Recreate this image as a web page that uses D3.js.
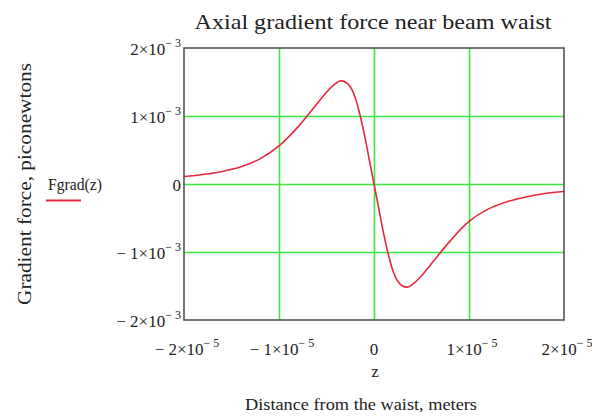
<!DOCTYPE html>
<html>
<head>
<meta charset="utf-8">
<script src="https://cdn.jsdelivr.net/npm/d3@7"></script>
<style>
  body { margin: 0; background: #fff; }
  text { font-family: "Liberation Serif", "Times New Roman", serif; fill: #222; }
</style>
</head>
<body>
<svg id="chart" width="592" height="419"></svg>
<script>
// distance from waist (units of 1e-5 m) and force (units of 1e-3 pN)
const zVals = [-2.0, -1.8, -1.6, -1.4, -1.2, -1.0, -0.8, -0.6, -0.5, -0.42, -0.36, -0.3, -0.25, -0.2, -0.15, -0.1, -0.05, 0,
               0.05, 0.1, 0.15, 0.2, 0.25, 0.3, 0.36, 0.42, 0.5, 0.6, 0.8, 1.0, 1.2, 1.4, 1.6, 1.8, 2.0]
const fVals = [0.11, 0.14, 0.185, 0.255, 0.37, 0.56, 0.84, 1.18, 1.35, 1.46, 1.515, 1.50, 1.43, 1.28, 1.03, 0.72, 0.36, 0,
               -0.36, -0.72, -1.03, -1.28, -1.43, -1.50, -1.515, -1.46, -1.35, -1.18, -0.84, -0.55, -0.37, -0.26, -0.19, -0.14, -0.11]
const xTicks = [-2, -1, 0, 1, 2]
const yTicks = [-2, -1, 0, 1, 2]
const tickLabels = ['\u2212 2\u00d710', '\u2212 1\u00d710', '0', '1\u00d710', '2\u00d710']

const margin = { top: 48, right: 28, bottom: 99, left: 184 }
const width = 592, height = 419
const red = '#e6283c', green = '#3de63d'
const svg = d3.select('#chart')

const x = d3.scaleLinear().domain([-2, 2]).range([margin.left, width - margin.right])
const y = d3.scaleLinear().domain([-2, 2]).range([height - margin.bottom, margin.top])

// grid lines
svg.append('g')
  .attr('transform', `translate(0,${height - margin.bottom})`)
  .call(d3.axisBottom(x).tickValues([-1, 0, 1]).tickSize(-(height - margin.top - margin.bottom)).tickFormat(''))
  .call(g => g.select('.domain').remove())
  .selectAll('line').attr('stroke', green).attr('stroke-width', 1.6)

svg.append('g')
  .attr('transform', `translate(${margin.left},0)`)
  .call(d3.axisLeft(y).tickValues([-1, 0, 1]).tickSize(-(width - margin.left - margin.right)).tickFormat(''))
  .call(g => g.select('.domain').remove())
  .selectAll('line').attr('stroke', green).attr('stroke-width', 1.6)

// curve
const line = d3.line()
  .x((d, i) => x(zVals[i]))
  .y(d => y(d))
  .curve(d3.curveCatmullRom.alpha(0.5))

svg.append('path')
  .datum(fVals)
  .attr('fill', 'none')
  .attr('stroke', red)
  .attr('stroke-width', 1.6)
  .attr('d', line)

// frame
svg.append('rect')
  .attr('x', margin.left).attr('y', margin.top)
  .attr('width', width - margin.left - margin.right)
  .attr('height', height - margin.top - margin.bottom)
  .attr('fill', 'none').attr('stroke', '#555').attr('stroke-width', 1.6)

// tick labels with superscript exponents
svg.append('g').selectAll('text').data(xTicks).join('text')
  .attr('x', d => x(d) + (d === 0 ? 0 : 3)).attr('y', 355)
  .attr('text-anchor', 'middle')
  .attr('font-size', 17)
  .each(function(d, i) {
    const t = d3.select(this)
    t.append('tspan').text(tickLabels[i])
    if (d !== 0) t.append('tspan').attr('dy', -8).attr('font-size', 12).text('\u2212 5')
  })

svg.append('g').selectAll('text').data(yTicks).join('text')
  .attr('x', margin.left - 3).attr('y', d => y(d) + 7)
  .attr('text-anchor', 'end')
  .attr('font-size', 17)
  .each(function(d, i) {
    const t = d3.select(this)
    t.append('tspan').text(tickLabels[i])
    if (d !== 0) t.append('tspan').attr('dy', -8).attr('font-size', 12).text('\u2212 3')
  })

// titles
svg.append('text')
  .attr('x', 373).attr('y', 29)
  .attr('text-anchor', 'middle')
  .attr('font-size', 21)
  .attr('textLength', 357).attr('lengthAdjust', 'spacingAndGlyphs')
  .text('Axial gradient force near beam waist')

svg.append('text')
  .attr('x', 375).attr('y', 377)
  .attr('text-anchor', 'middle')
  .attr('font-size', 17)
  .text('z')

svg.append('text')
  .attr('x', 361).attr('y', 410)
  .attr('text-anchor', 'middle')
  .attr('font-size', 17.5)
  .attr('textLength', 232).attr('lengthAdjust', 'spacingAndGlyphs')
  .text('Distance from the waist, meters')

svg.append('text')
  .attr('transform', 'translate(31,184) rotate(-90)')
  .attr('text-anchor', 'middle')
  .attr('font-size', 19)
  .attr('textLength', 242).attr('lengthAdjust', 'spacingAndGlyphs')
  .text('Gradient force, piconewtons')

// legend
svg.append('text')
  .attr('x', 48).attr('y', 190)
  .attr('font-size', 17)
  .attr('textLength', 54).attr('lengthAdjust', 'spacingAndGlyphs')
  .text('Fgrad(z)')
svg.append('line')
  .attr('x1', 46).attr('x2', 81).attr('y1', 200.5).attr('y2', 200.5)
  .attr('stroke', red).attr('stroke-width', 2)
</script>
</body>
</html>
